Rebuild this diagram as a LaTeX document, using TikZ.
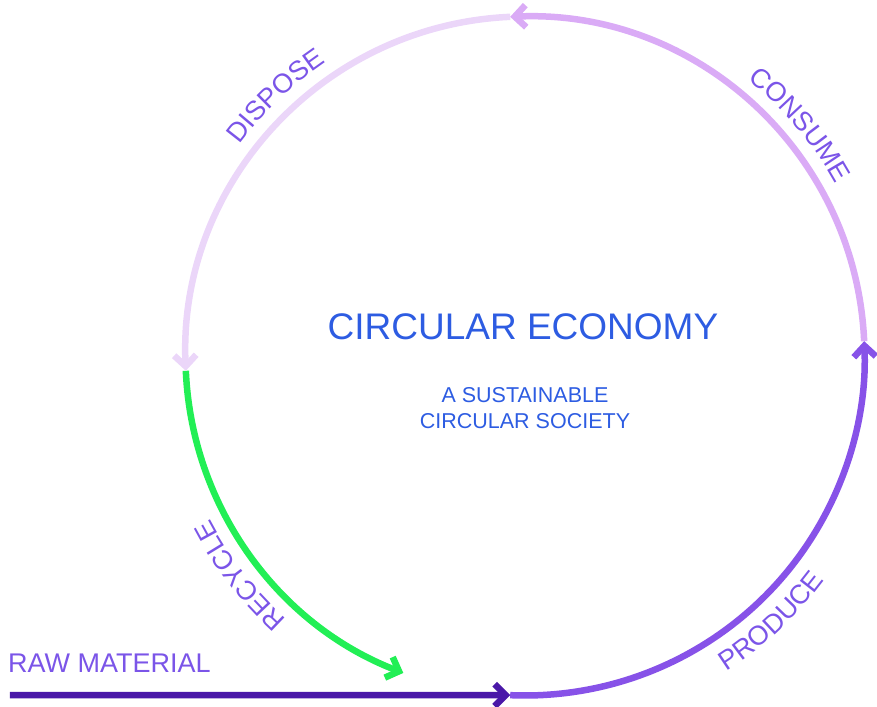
\documentclass[tikz,border=0pt]{standalone}
\usepackage{fontspec}
\setmainfont{Liberation Sans}
\usetikzlibrary{arrows.meta,decorations.text}

\definecolor{producec}{HTML}{8752E8}
\definecolor{consumec}{HTML}{DAABF6}
\definecolor{disposec}{HTML}{EBD6F9}
\definecolor{recyclec}{HTML}{22EF55}
\definecolor{rawc}{HTML}{4A18A8}
\definecolor{labelc}{HTML}{7B55E8}
\definecolor{titlec}{HTML}{2D5CE2}

\newcommand{\labelfont}{\fontsize{27}{32}\selectfont}

\begin{document}
\begin{tikzpicture}[x=1pt,y=1pt,
  flow/.style={line width=6.5pt, line cap=butt,
    -{Straight Barb[length=11pt,width=22pt,line cap=butt,line join=miter]}},
  arclabel/.style={decorate, decoration={text along path, text align=center,
    text color=labelc, text={|\labelfont|#1}}},
  title/.style={text=titlec, inner sep=0pt, anchor=base},
]
\useasboundingbox (-525,-350) rectangle (352,356);
\def\R{339.5}

% points where the stages meet on the ring
\coordinate (ring) at (0,0);
\coordinate (ptRight)  at (2.5:\R);
\coordinate (ptTop)    at (92.5:\R);
\coordinate (ptLeft)   at (182.5:\R);
\coordinate (ptBottom) at (267.5:\R);
\coordinate (rawStart) at (-515,-339.2);

% stages of the cycle (drawn so each tip lies over the next stage)
\draw[flow, recyclec] (ptLeft) arc[start angle=182.5, end angle=249, radius=\R];
\draw[flow, disposec] (ptTop) arc[start angle=92.5, end angle=182.5, radius=\R];
\draw[flow, consumec] (ptRight) arc[start angle=2.5, end angle=92.5, radius=\R];
\draw[flow, producec] (ptBottom) arc[start angle=267.5, end angle=362.5, radius=\R];
\draw[flow, rawc] (rawStart) -- (ptBottom);

% stage labels set along the ring
\path[arclabel=DISPOSE] (163.8:355) arc[start angle=163.8, end angle=103.8, radius=355];
\path[arclabel=CONSUME] (70.1:355) arc[start angle=70.1, end angle=10.1, radius=355];
\path[arclabel=RECYCLE] (247.6:355) arc[start angle=247.6, end angle=187.6, radius=355];
\path[arclabel=PRODUCE] (-77.1:374) arc[start angle=-77.1, end angle=-17.1, radius=374];

\node[text=labelc, inner sep=0pt, anchor=base west, font=\labelfont] (raw) at (-517,-316) {RAW MATERIAL};

% central caption
\node[title, font=\fontsize{37}{44}\selectfont] (head) at (-2,16) {CIRCULAR ECONOMY};
\node[title, font=\fontsize{21.5}{26}\selectfont] (sub1) at (0,-46) {A SUSTAINABLE};
\node[title, font=\fontsize{21.5}{26}\selectfont] (sub2) at (0,-72) {CIRCULAR SOCIETY};
\end{tikzpicture}
\end{document}
